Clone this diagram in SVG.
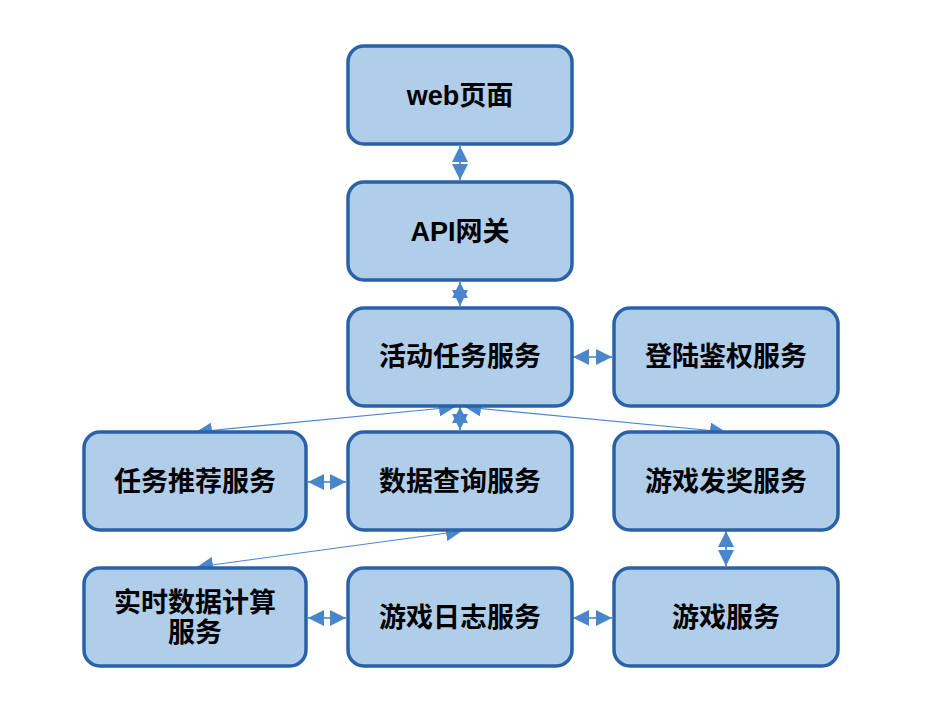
<svg xmlns="http://www.w3.org/2000/svg" width="948" height="706" viewBox="0 0 948 706">
<defs>
<style>
.box{fill:#B0CDEA;stroke:#2A62A8;stroke-width:3.5}
.t{font-family:"Liberation Sans","Noto Sans CJK SC",sans-serif;font-weight:bold;font-size:27px;fill:#000;text-anchor:middle;dominant-baseline:central}
.c{stroke:#6D9CD6;stroke-width:2;fill:none;marker-start:url(#ah);marker-end:url(#ah)}
.d{stroke:#4A86CC;stroke-width:1.2;fill:none;marker-start:url(#ah);marker-end:url(#ah)}
</style>
<marker id="ah" markerUnits="userSpaceOnUse" markerWidth="16" markerHeight="16" refX="16" refY="8" orient="auto-start-reverse" viewBox="0 0 16 16">
<path d="M0,0 L16,8 L0,16 z" fill="#4A86CC"/>
</marker>
</defs>
<rect width="948" height="706" fill="#fff"/>
<g id="connectors">
<line class="c" x1="460" y1="146" x2="460" y2="180"/>
<line class="c" x1="460" y1="282" x2="460" y2="306"/>
<line class="c" x1="573" y1="357" x2="612" y2="357"/>
<line class="c" x1="460" y1="407" x2="460" y2="430"/>
<line class="d" x1="455" y1="407" x2="196" y2="432"/>
<line class="d" x1="465" y1="407" x2="726" y2="432"/>
<line class="c" x1="308" y1="482" x2="346" y2="482"/>
<line class="d" x1="462" y1="531" x2="197" y2="567"/>
<line class="c" x1="726" y1="531" x2="726" y2="566"/>
<line class="c" x1="308" y1="618" x2="346" y2="618"/>
<line class="c" x1="573" y1="618" x2="612" y2="618"/>
</g>
<g id="web"><rect class="box" x="348" y="46" width="224" height="98" rx="16"/><text class="t" x="460" y="96">web页面</text></g>
<g id="api"><rect class="box" x="348" y="182" width="224" height="98" rx="16"/><text class="t" x="460" y="232">API网关</text></g>
<g id="activity"><rect class="box" x="348" y="308" width="224" height="98" rx="16"/><text class="t" x="460" y="357">活动任务服务</text></g>
<g id="login"><rect class="box" x="614" y="308" width="224" height="98" rx="16"/><text class="t" x="726" y="357">登陆鉴权服务</text></g>
<g id="recommend"><rect class="box" x="84" y="432" width="222" height="98" rx="16"/><text class="t" x="195" y="482">任务推荐服务</text></g>
<g id="query"><rect class="box" x="348" y="432" width="224" height="98" rx="16"/><text class="t" x="460" y="482">数据查询服务</text></g>
<g id="reward"><rect class="box" x="614" y="432" width="224" height="98" rx="16"/><text class="t" x="726" y="482">游戏发奖服务</text></g>
<g id="realtime"><rect class="box" x="84" y="568" width="222" height="98" rx="16"/><text class="t" x="195" y="603">实时数据计算</text><text class="t" x="195" y="633">服务</text></g>
<g id="gamelog"><rect class="box" x="348" y="568" width="224" height="98" rx="16"/><text class="t" x="460" y="618">游戏日志服务</text></g>
<g id="game"><rect class="box" x="614" y="568" width="224" height="98" rx="16"/><text class="t" x="726" y="618">游戏服务</text></g>
</svg>
